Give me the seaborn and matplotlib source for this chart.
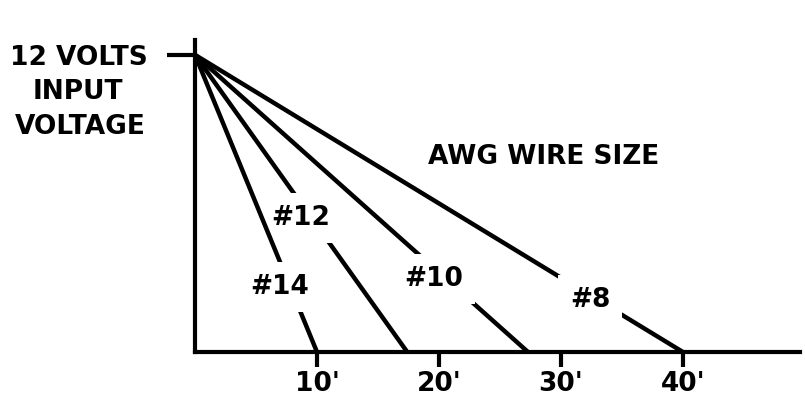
import seaborn as sns
import matplotlib.pyplot as plt
import pandas as pd

# Data
wire_sizes = ["#14", "#12", "#10", "#8"]
max_feet = [10, 17.4, 27.3, 40]       # run length where voltage reaches zero
input_volts = 12
x_ticks = [10, 20, 30, 40]
x_tick_labels = ["10'", "20'", "30'", "40'"]

# label spots (feet, volts) for each wire name
label_pos = [(6.9, 2.63), (8.7, 5.41), (19.6, 2.95), (32.4, 2.1)]

rows = []
for w, f in zip(wire_sizes, max_feet):
    rows.append({"wire": w, "feet": 0, "volts": input_volts})
    rows.append({"wire": w, "feet": f, "volts": 0})
df = pd.DataFrame(rows)

sns.set_style("white")
plt.rcParams["font.family"] = ["DejaVu Sans"]
plt.rcParams["text.color"] = "black"
fs = 19
fw = "bold"

fig = plt.figure(figsize=(8.05, 4.15), dpi=100)
ax = fig.add_axes([195 / 805, 63 / 415, 605 / 805, 312 / 415])

# each wire gets its own layer so a label box only breaks its own line
for i, (name, (lx, ly)) in enumerate(zip(wire_sizes, label_pos)):
    z = 10 - 2 * i
    sns.lineplot(data=df[df["wire"] == name], x="feet", y="volts",
                 color="black", lw=3.2, ax=ax, legend=False, zorder=z)
    ax.text(lx, ly, name, fontsize=fs, fontweight=fw, ha="center", va="center",
            zorder=z + 1,
            bbox=dict(boxstyle="square,pad=0.45", fc="white", ec="none"))

ax.set_xlim(0, 49.6)
ax.set_ylim(0, 12.6)
sns.despine(ax=ax)
for s in ["left", "bottom"]:
    ax.spines[s].set_color("black")
    ax.spines[s].set_linewidth(3)
    ax.spines[s].set_zorder(20)

ax.set_xticks(x_ticks)
ax.set_xticklabels(x_tick_labels, fontsize=fs, fontweight=fw)
ax.set_yticks([input_volts])
ax.set_yticklabels([f"{input_volts} VOLTS"], fontsize=fs, fontweight=fw)
ax.tick_params(axis="x", bottom=True, direction="out", length=11, width=3, pad=3,
               colors="black")
ax.tick_params(axis="y", left=True, direction="out", length=20, width=3, pad=14,
               colors="black")
ax.set_xlabel("")
ax.set_ylabel("")

ax.text(28.6, 7.88, "AWG WIRE SIZE", fontsize=fs, fontweight=fw, ha="center", va="center")
fig.text(78 / 805, 1 - 92 / 415, "INPUT", fontsize=fs, fontweight=fw, ha="center", va="center")
fig.text(80 / 805, 1 - 127 / 415, "VOLTAGE", fontsize=fs, fontweight=fw, ha="center", va="center")

fig.savefig("out.png", dpi=100, facecolor="white")
